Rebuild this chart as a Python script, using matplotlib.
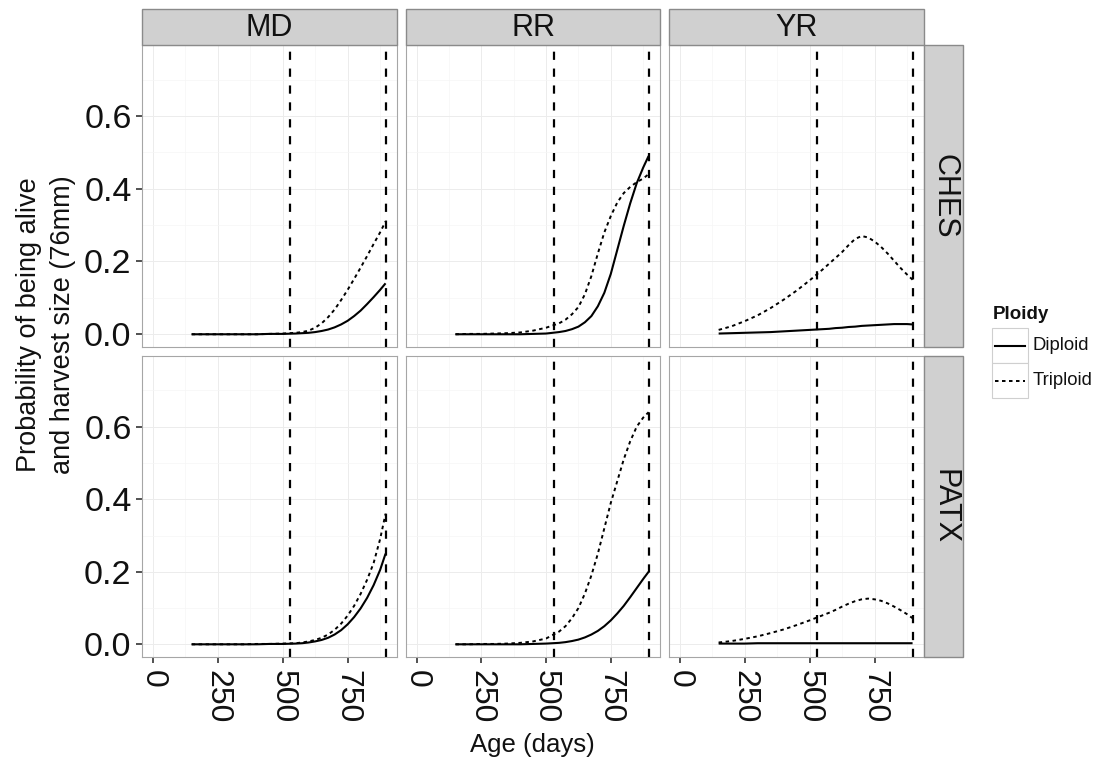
import matplotlib
matplotlib.use("Agg")
import matplotlib.pyplot as plt
from matplotlib.patches import Rectangle
from matplotlib.lines import Line2D

plt.rcParams['font.family'] = ['Liberation Sans', 'DejaVu Sans']

# Facet levels
sites = ["MD", "RR", "YR"]
regions = ["CHES", "PATX"]
ploidy_levels = ["Diploid", "Triploid"]

# Age grid (days) at which the predicted probabilities are given
age_days = [150, 200, 250, 300, 350, 400, 450, 500, 550,
            575, 600, 625, 650, 675, 700, 725, 750, 775, 800, 825, 850, 875, 896]

# Harvest reference ages (days)
harvest_days = [530, 896]

x_ticks = [0, 250, 500, 750]
y_ticks = [0.0, 0.2, 0.4, 0.6]
y_tick_labels = ["0.0", "0.2", "0.4", "0.6"]

# Probability of being alive and at harvest size (76mm)
ches_md_diploid = [0, 0, 0, 0, 0, 0, 0.001, 0.001, 0.002,
                   0.003, 0.004, 0.006, 0.009, 0.013, 0.019, 0.027, 0.037, 0.050, 0.065, 0.083, 0.102, 0.122, 0.140]
ches_md_triploid = [0, 0, 0, 0, 0, 0, 0.001, 0.002, 0.004,
                    0.006, 0.010, 0.018, 0.030, 0.047, 0.068, 0.094, 0.122, 0.152, 0.183, 0.215, 0.248, 0.280, 0.310]
ches_rr_diploid = [0, 0, 0, 0, 0, 0, 0.001, 0.002, 0.006,
                   0.009, 0.014, 0.021, 0.033, 0.050, 0.077, 0.114, 0.166, 0.232, 0.298, 0.360, 0.415, 0.458, 0.490]
ches_rr_triploid = [0, 0.001, 0.001, 0.002, 0.003, 0.005, 0.010, 0.018, 0.030,
                    0.040, 0.055, 0.075, 0.110, 0.160, 0.222, 0.280, 0.325, 0.362, 0.388, 0.405, 0.418, 0.428, 0.440]
ches_yr_diploid = [0.002, 0.003, 0.004, 0.005, 0.006, 0.008, 0.010, 0.012, 0.014,
                   0.015, 0.017, 0.018, 0.020, 0.021, 0.023, 0.024, 0.025, 0.026, 0.027, 0.028, 0.028, 0.028, 0.027]
ches_yr_triploid = [0.012, 0.022, 0.036, 0.052, 0.072, 0.095, 0.120, 0.148, 0.178,
                    0.194, 0.210, 0.226, 0.245, 0.262, 0.270, 0.266, 0.255, 0.240, 0.222, 0.202, 0.182, 0.164, 0.150]
patx_md_diploid = [0, 0, 0, 0, 0, 0, 0.001, 0.001, 0.002,
                   0.003, 0.005, 0.008, 0.012, 0.018, 0.027, 0.039, 0.055, 0.075, 0.099, 0.128, 0.163, 0.205, 0.250]
patx_md_triploid = [0, 0, 0, 0, 0, 0.001, 0.001, 0.002, 0.003,
                    0.005, 0.008, 0.012, 0.018, 0.027, 0.040, 0.057, 0.079, 0.106, 0.139, 0.178, 0.224, 0.290, 0.360]
patx_rr_diploid = [0, 0, 0, 0, 0, 0, 0.001, 0.002, 0.004,
                   0.006, 0.009, 0.013, 0.019, 0.027, 0.037, 0.050, 0.066, 0.085, 0.106, 0.130, 0.155, 0.180, 0.200]
patx_rr_triploid = [0, 0, 0.001, 0.001, 0.002, 0.004, 0.008, 0.016, 0.035,
                    0.050, 0.072, 0.100, 0.140, 0.190, 0.250, 0.320, 0.390, 0.450, 0.510, 0.560, 0.600, 0.625, 0.640]
patx_yr_diploid = [0.002, 0.002, 0.002, 0.003, 0.003, 0.003, 0.003, 0.003, 0.003,
                   0.003, 0.003, 0.003, 0.003, 0.003, 0.003, 0.003, 0.003, 0.003, 0.003, 0.003, 0.003, 0.003, 0.003]
patx_yr_triploid = [0.005, 0.009, 0.015, 0.022, 0.031, 0.041, 0.053, 0.066, 0.080,
                    0.087, 0.095, 0.104, 0.112, 0.119, 0.124, 0.126, 0.124, 0.120, 0.113, 0.104, 0.094, 0.083, 0.072]

series = {
    ("CHES", "MD"): (ches_md_diploid, ches_md_triploid),
    ("CHES", "RR"): (ches_rr_diploid, ches_rr_triploid),
    ("CHES", "YR"): (ches_yr_diploid, ches_yr_triploid),
    ("PATX", "MD"): (patx_md_diploid, patx_md_triploid),
    ("PATX", "RR"): (patx_rr_diploid, patx_rr_triploid),
    ("PATX", "YR"): (patx_yr_diploid, patx_yr_triploid),
}

W, H = 1099, 761
fig = plt.figure(figsize=(W / 100, H / 100), dpi=100)


def rect(x0, y0, x1, y1):
    return [x0 / W, 1 - y1 / H, (x1 - x0) / W, (y1 - y0) / H]


col_px = [(142, 397), (406, 660), (669, 924)]
row_px = [(45, 347), (356, 657)]
strip_top = (9, 45)
strip_right = (924, 963)

STRIP_FILL = "#d0d0d0"
STRIP_EDGE = "#8a8a8a"
BORDER = "#a6a6a6"
TEXT = "#111111"

styles = {
    "Diploid": dict(color="black", lw=1.5, linestyle="-"),
    "Triploid": dict(color="black", lw=1.4, linestyle=(0, (1.8, 1.8))),
}

minor_x = [125, 375, 625, 875]
minor_y = [0.1, 0.3, 0.5, 0.7]

for r, region in enumerate(regions):
    for c, site in enumerate(sites):
        x0, x1 = col_px[c]
        y0, y1 = row_px[r]
        ax = fig.add_axes(rect(x0, y0, x1, y1))
        ax.set_xlim(-41, 940)
        ax.set_ylim(-0.035, 0.795)
        ax.set_xticks(x_ticks)
        ax.set_xticks(minor_x, minor=True)
        ax.set_yticks(y_ticks)
        ax.set_yticks(minor_y, minor=True)
        ax.grid(which="major", color="#ececec", lw=0.7)
        ax.grid(which="minor", color="#f6f6f6", lw=0.5)
        ax.set_axisbelow(True)
        for sp in ax.spines.values():
            sp.set_color(BORDER)
            sp.set_linewidth(0.8)
        ax.tick_params(which="minor", length=0)
        ax.tick_params(which="major", direction="out", length=4.5, width=1.2,
                       color="#333333", labelcolor=TEXT)

        dip, trip = series[(region, site)]
        ax.plot(age_days, dip, **styles["Diploid"], solid_capstyle="butt")
        ax.plot(age_days, trip, **styles["Triploid"], dash_capstyle="butt")
        for hd in harvest_days:
            ax.axvline(hd, color="black", lw=1.6, linestyle=(0, (3.7, 3.9)))

        if c == 0:
            ax.set_yticklabels(y_tick_labels, fontsize=24.5)
            ax.tick_params(axis="y", pad=3)
        else:
            ax.tick_params(axis="y", length=0, labelleft=False)
        if r == len(regions) - 1:
            ax.set_xticklabels([str(t) for t in x_ticks], fontsize=23,
                               rotation=-90, va="top", ha="center")
            ax.tick_params(axis="x", pad=5)
        else:
            ax.tick_params(axis="x", length=0, labelbottom=False)

# Column strips
for c, site in enumerate(sites):
    x0, x1 = col_px[c]
    fig.patches.append(Rectangle((x0 / W, 1 - strip_top[1] / H), (x1 - x0) / W,
                                 (strip_top[1] - strip_top[0]) / H,
                                 transform=fig.transFigure, facecolor=STRIP_FILL,
                                 edgecolor=STRIP_EDGE, lw=1.0))
    fig.text((x0 + x1) / 2 / W, 1 - (sum(strip_top) / 2 + 1) / H, site,
             ha="center", va="center", fontsize=22, color=TEXT)

# Row strips
for r, region in enumerate(regions):
    y0, y1 = row_px[r]
    fig.patches.append(Rectangle((strip_right[0] / W, 1 - y1 / H),
                                 (strip_right[1] - strip_right[0]) / W, (y1 - y0) / H,
                                 transform=fig.transFigure, facecolor=STRIP_FILL,
                                 edgecolor=STRIP_EDGE, lw=1.0))
    fig.text((sum(strip_right) / 2 + 1) / W, 1 - (y0 + y1) / 2 / H, region,
             ha="center", va="center", rotation=-90, fontsize=22, color=TEXT)

# Axis titles
fig.text(46 / W, 1 - 325 / H, "Probability of being alive\nand harvest size (76mm)",
         ha="center", va="center", rotation=90, fontsize=19.5, color=TEXT,
         linespacing=1.4, multialignment="center")
fig.text(532 / W, 1 - 745 / H, "Age (days)", ha="center", va="center",
         fontsize=18.5, color=TEXT)

# Legend
fig.text(993 / W, 1 - 315 / H, "Ploidy", ha="left", va="center",
         fontsize=13.5, fontweight="bold", color=TEXT)
key_x0, key_x1 = 992, 1028
key_rows = [(328, 363), (363, 398)]
for (ky0, ky1), level in zip(key_rows, ploidy_levels):
    fig.patches.append(Rectangle((key_x0 / W, 1 - ky1 / H), (key_x1 - key_x0) / W,
                                 (ky1 - ky0) / H, transform=fig.transFigure,
                                 facecolor="white", edgecolor="#cfcfcf", lw=0.8))
    ym = 1 - (ky0 + ky1) / 2 / H
    st = dict(styles[level])
    fig.lines.append(Line2D([(key_x0 + 3) / W, (key_x1 - 3) / W], [ym, ym],
                            transform=fig.transFigure, **st))
    fig.text((key_x1 + 5) / W, ym, level, ha="left", va="center",
             fontsize=13.3, color=TEXT)

fig.savefig("out.png", dpi=100, facecolor="white")
